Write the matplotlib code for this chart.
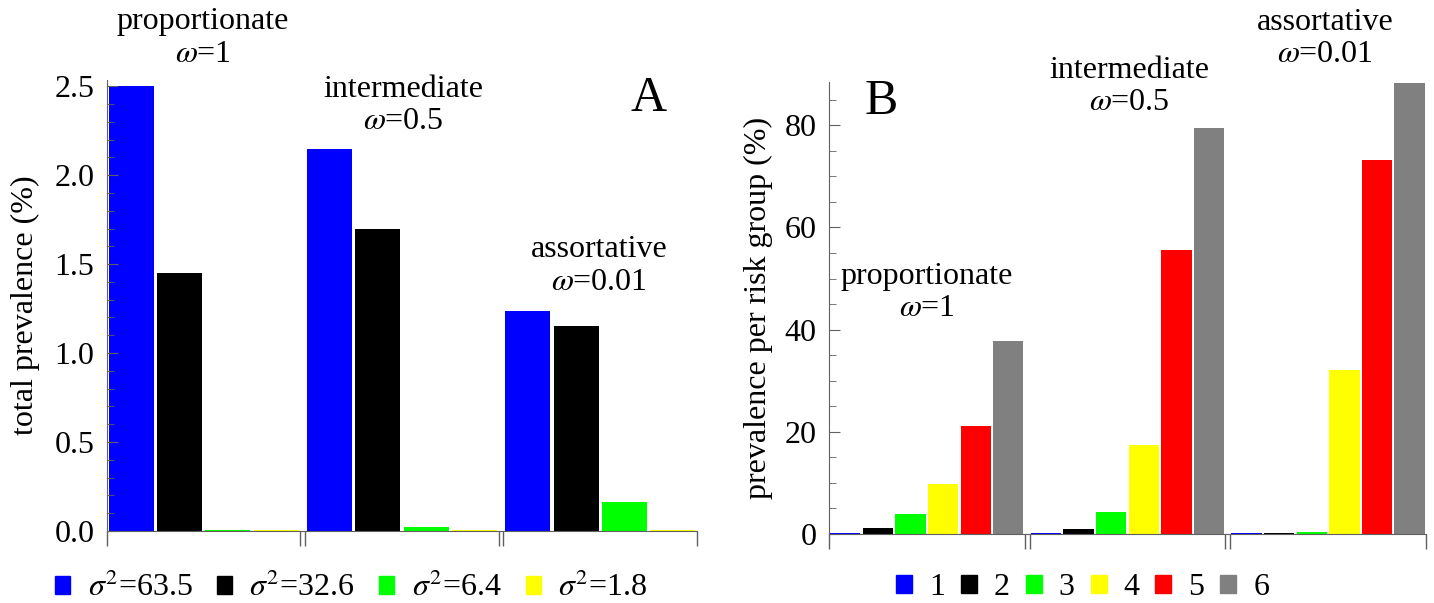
import numpy as np
import matplotlib
matplotlib.use('Agg')
from matplotlib import pyplot as plt
from matplotlib.patches import Patch
from matplotlib.ticker import MultipleLocator, FormatStrFormatter

plt.rcParams['font.family'] = ['Liberation Serif', 'DejaVu Serif']
plt.rcParams['mathtext.fontset'] = 'stix'

# panel A: total prevalence per mixing scenario and sigma^2
groups_a = ['proportionate', 'intermediate', 'assortative']
omega = ['1', '0.5', '0.01']
sigma_labels = ['63.5', '32.6', '6.4', '1.8']
colors_a = ['#0000ff', '#000000', '#00ff00', '#ffff00']
total_prev = [
    [2.50, 1.45, 0.004, 0.003],
    [2.145, 1.70, 0.02, 0.003],
    [1.235, 1.15, 0.163, 0.003],
]

# panel B: prevalence per risk group
risk_groups = ['1', '2', '3', '4', '5', '6']
colors_b = ['#0000ff', '#000000', '#00ff00', '#ffff00', '#ff0000', '#808080']
group_prev = [
    [0.25, 1.2, 3.9, 9.7, 21.2, 37.8],
    [0.25, 1.0, 4.3, 17.5, 55.6, 79.4],
    [0.2, 0.2, 0.3, 32.1, 73.2, 88.2],
]

axcol = '#606060'
fs = 23

fig = plt.figure(figsize=(14.34, 6.03), dpi=100)
axA = fig.add_axes([0.0746, 0.1194, 0.4114, 0.748])
axB = fig.add_axes([0.578, 0.1144, 0.4164, 0.750])


def draw_panel(ax, data, colors, gap):
    n = len(colors)
    for g, vals in enumerate(data):
        for j, v in enumerate(vals):
            x = g * (n + gap) + j + 0.5
            ax.bar(x, v, width=0.93, color=colors[j], edgecolor='none')
    right = len(data) * (n + gap) - gap
    ax.set_xlim(0, right)
    edges = [0]
    for g in range(1, len(data)):
        edges += [g * (n + gap) - gap, g * (n + gap)]
    edges.append(right)
    ax.set_xticks(edges)
    ax.set_xticklabels([])
    ax.tick_params(axis='x', direction='out', length=11, color=axcol, width=1)
    ax.tick_params(axis='y', which='major', direction='in', length=8,
                   color=axcol, labelsize=fs, pad=9)
    ax.tick_params(axis='y', which='minor', direction='in', length=5, color=axcol)
    for s in ['top', 'right']:
        ax.spines[s].set_visible(False)
    for s in ['left', 'bottom']:
        ax.spines[s].set_color(axcol)
    return right


draw_panel(axA, total_prev, colors_a, 0.1)
axA.set_ylim(0, 2.535)
axA.yaxis.set_major_locator(MultipleLocator(0.5))
axA.yaxis.set_minor_locator(MultipleLocator(0.1))
axA.yaxis.set_major_formatter(FormatStrFormatter('%.1f'))
axA.set_ylabel('total prevalence (%)', fontsize=fs)
axA.yaxis.set_label_coords(-0.113, 0.5)

draw_panel(axB, group_prev, colors_b, 0.15)
axB.set_ylim(0, 88.5)
axB.yaxis.set_major_locator(MultipleLocator(20))
axB.yaxis.set_minor_locator(MultipleLocator(5))
axB.set_ylabel('prevalence per risk group (%)', fontsize=fs)
axB.yaxis.set_label_coords(-0.094, 0.5)

# annotations panel A
ann_a = [(1.98, 2.77), (6.12, 2.39), (10.17, 1.49)]
for (x, y), name, w in zip(ann_a, groups_a, omega):
    axA.text(x, y, name + '\n' + r'$\omega$=' + w, ha='center', va='center',
             fontsize=fs, linespacing=1.15, clip_on=False)
axA.text(11.2, 2.3, 'A', fontsize=36, ha='center', va='bottom')

# annotations panel B
ann_b = [(3.0, 47.2), (9.2, 87.6), (15.2, 97.0)]
for (x, y), name, w in zip(ann_b, groups_a, omega):
    axB.text(x, y, name + '\n' + r'$\omega$=' + w, ha='center', va='center',
             fontsize=fs, linespacing=1.15, clip_on=False)
axB.text(1.6, 80, 'B', fontsize=36, ha='center', va='bottom')

# legends
hA = [Patch(color=c) for c in colors_a]
lA = [r'$\sigma^2$=' + s for s in sigma_labels]
fig.legend(hA, lA, loc='center', bbox_to_anchor=(0.245, 0.025), ncol=4,
           frameon=False, fontsize=fs, handlelength=0.47, handleheight=0.47,
           handletextpad=0.55, columnspacing=0.75)

hB = [Patch(color=c) for c in colors_b]
fig.legend(hB, risk_groups, loc='center', bbox_to_anchor=(0.755, 0.025), ncol=6,
           frameon=False, fontsize=fs, handlelength=0.5, handleheight=0.5,
           handletextpad=0.53, columnspacing=0.5)

fig.savefig('out.png', dpi=100)
